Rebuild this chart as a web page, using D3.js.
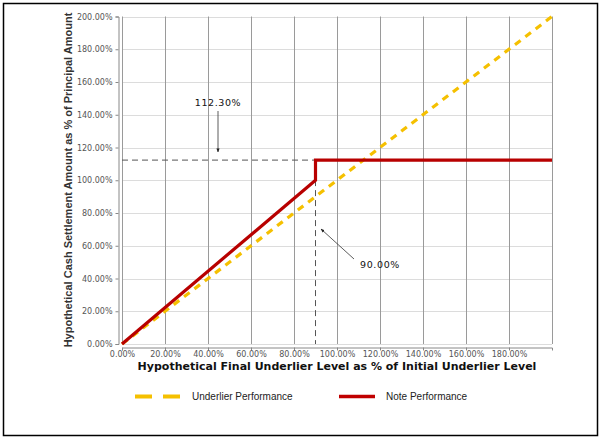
<!DOCTYPE html>
<html><head><meta charset="utf-8">
<script src="https://cdn.jsdelivr.net/npm/d3@7"></script>
<style>body{margin:0;background:#fff}svg{display:block}</style>
</head><body>
<svg id="c" width="602" height="439"></svg>
<script>
const underlierX = [0, 200];
const underlierY = [0, 200];
const noteX = [0, 90, 90, 200];
const noteY = [0, 100, 112.3, 112.3];
const yTicks = [0, 20, 40, 60, 80, 100, 120, 140, 160, 180, 200];
const xTicks = [0, 20, 40, 60, 80, 100, 120, 140, 160, 180];
const gridX = [0, 20, 40, 60, 80, 100, 120, 140, 160, 180, 200];
const capLevel = 112.3;
const barrier = 90;
const seriesNames = ["Underlier Performance", "Note Performance"];
const xTitle = "Hypothetical Final Underlier Level as % of Initial Underlier Level";
const yTitle = "Hypothetical Cash Settlement Amount as % of Principal Amount";

const svg = d3.select("#c");
const x = d3.scaleLinear().domain([0, 200]).range([122, 552]);
const y = d3.scaleLinear().domain([0, 200]).range([344, 16.5]);
const fmt = d => d.toFixed(2) + "%";

// outer frame
svg.append("rect").attr("x", 3.5).attr("y", 3.5).attr("width", 594).attr("height", 432)
  .attr("fill", "#fff").attr("stroke", "#000").attr("stroke-width", 1.5);

// grid
svg.append("g").selectAll("line").data(yTicks).join("line")
  .attr("x1", x(0)).attr("x2", x(200)).attr("y1", d => Math.round(y(d)) + 0.5).attr("y2", d => Math.round(y(d)) + 0.5)
  .attr("stroke", "#dcdcdc").attr("stroke-width", 1);
svg.append("g").selectAll("line").data(gridX).join("line")
  .attr("y1", y(200)).attr("y2", y(0)).attr("x1", d => Math.round(x(d)) + 0.5).attr("x2", d => Math.round(x(d)) + 0.5)
  .attr("stroke", "#9a9a9a").attr("stroke-width", 1);

// axes
const yAxis = svg.append("g").attr("transform", "translate(118.5,0)")
  .call(d3.axisLeft(y).tickValues(yTicks).tickFormat(fmt).tickSize(3).tickPadding(3));
const xAxis = svg.append("g").attr("transform", "translate(0,347.5)")
  .call(d3.axisBottom(x).tickValues(xTicks).tickFormat(fmt).tickSize(3).tickPadding(1));
[yAxis, xAxis].forEach(a => {
  a.select(".domain").attr("stroke", "#888");
  a.selectAll(".tick line").attr("stroke", "#888");
  a.selectAll("text").attr("fill", "#555").style("font-family", "DejaVu Sans").style("font-size", "8px");
});

// reference dashed lines
svg.append("line").attr("x1", x(0)).attr("x2", x(barrier)).attr("y1", y(capLevel)).attr("y2", y(capLevel))
  .attr("stroke", "#555").attr("stroke-width", 1).attr("stroke-dasharray", "6,4");
svg.append("line").attr("x1", x(barrier)).attr("x2", x(barrier)).attr("y1", y(capLevel)).attr("y2", y(0))
  .attr("stroke", "#555").attr("stroke-width", 1).attr("stroke-dasharray", "6,4");

// series
const line = d3.line().x(d => x(d[0])).y(d => y(d[1]));
svg.append("path").datum(underlierX.map((v, i) => [v, underlierY[i]]))
  .attr("d", line).attr("fill", "none").attr("stroke", "#F5C000").attr("stroke-width", 3.2)
  .attr("stroke-dasharray", "7,6");
svg.append("path").datum(noteX.map((v, i) => [v, noteY[i]]))
  .attr("d", line).attr("fill", "none").attr("stroke", "#B80000").attr("stroke-width", 3.2)
  .attr("stroke-linejoin", "miter");

// annotations
const defs = svg.append("defs");
defs.append("marker").attr("id", "ah").attr("viewBox", "0 0 10 10").attr("refX", 9).attr("refY", 5)
  .attr("markerWidth", 5).attr("markerHeight", 5).attr("orient", "auto")
  .append("path").attr("d", "M0,1 L10,5 L0,9 Z").attr("fill", "#222");
svg.append("text").attr("x", 218).attr("y", 106).attr("text-anchor", "middle")
  .style("font-family", "DejaVu Sans").style("font-size", "9.5px").style("letter-spacing", "0.6px")
  .attr("fill", "#111").text(fmt(capLevel));
svg.append("line").attr("x1", 218).attr("y1", 111).attr("x2", 218).attr("y2", 152)
  .attr("stroke", "#333").attr("stroke-width", 0.8).attr("marker-end", "url(#ah)");
svg.append("text").attr("x", 380).attr("y", 268).attr("text-anchor", "middle")
  .style("font-family", "DejaVu Sans").style("font-size", "9.5px").style("letter-spacing", "0.6px")
  .attr("fill", "#111").text(fmt(barrier));
svg.append("line").attr("x1", 354).attr("y1", 259).attr("x2", 321).attr("y2", 229)
  .attr("stroke", "#333").attr("stroke-width", 0.8).attr("marker-end", "url(#ah)");

// axis titles
svg.append("text").attr("x", 337).attr("y", 370).attr("text-anchor", "middle")
  .style("font-family", "DejaVu Sans").style("font-weight", "bold").style("font-size", "11px")
  .attr("fill", "#111").text(xTitle);
svg.append("text").attr("transform", "translate(72,180) rotate(-90)").attr("text-anchor", "middle")
  .style("font-family", "Liberation Sans").style("font-weight", "bold").style("font-size", "11px")
  .attr("fill", "#333").text(yTitle);

// legend
const lg = svg.append("g");
lg.append("line").attr("x1", 135).attr("x2", 180).attr("y1", 396.5).attr("y2", 396.5)
  .attr("stroke", "#F5C000").attr("stroke-width", 4).attr("stroke-dasharray", "17,11");
lg.append("text").attr("x", 192).attr("y", 400).text(seriesNames[0])
  .style("font-family", "Liberation Sans").style("font-size", "10px").attr("fill", "#222");
lg.append("line").attr("x1", 339).attr("x2", 375).attr("y1", 396.5).attr("y2", 396.5)
  .attr("stroke", "#C00000").attr("stroke-width", 3.5);
lg.append("text").attr("x", 386).attr("y", 400).text(seriesNames[1])
  .style("font-family", "Liberation Sans").style("font-size", "10px").attr("fill", "#222");
</script>
</body></html>
